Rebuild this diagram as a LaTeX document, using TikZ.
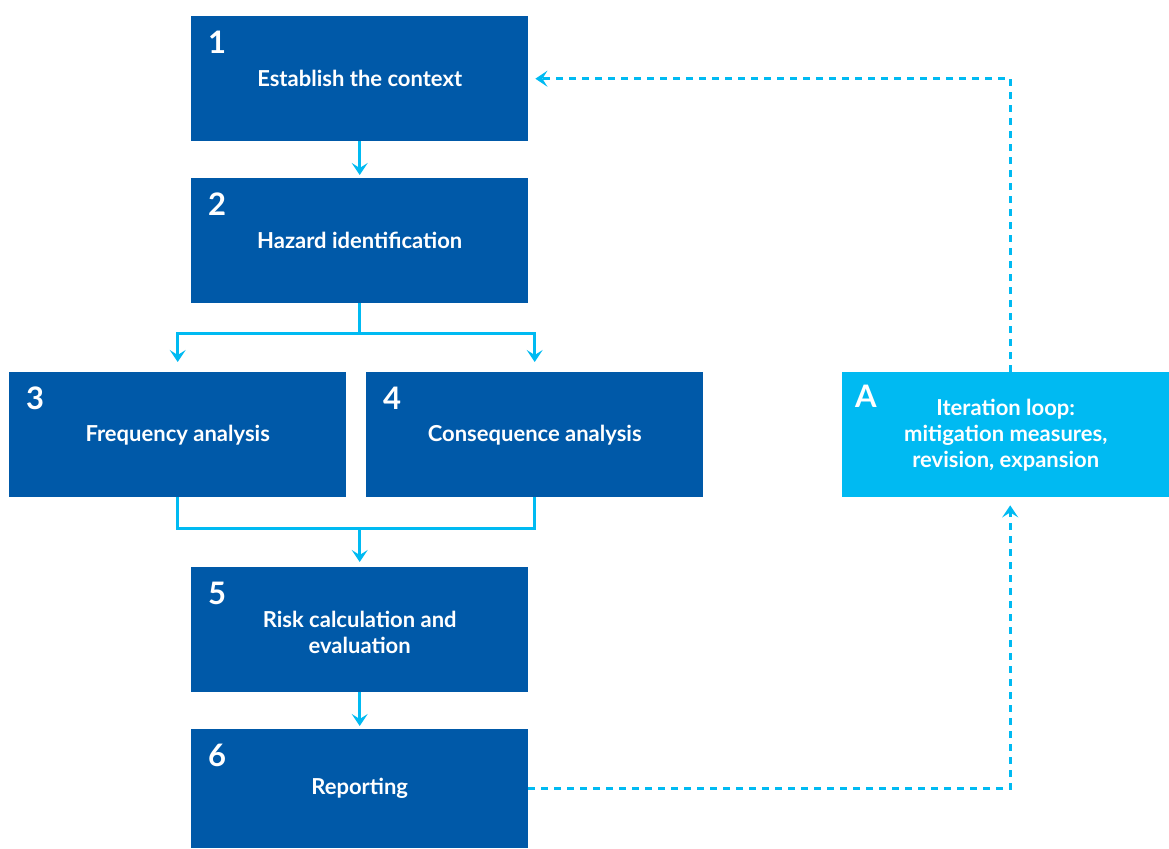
\documentclass[tikz,border=0pt]{standalone}
\usepackage{fontspec}
\setmainfont{Lato}
\usetikzlibrary{arrows.meta,calc}
\definecolor{dblue}{HTML}{0059A8}
\definecolor{lblue}{HTML}{00BAF2}
\begin{document}
\begin{tikzpicture}[x=1pt,y=-1pt,
  boxfont/.style={font=\fontsize{22}{26}\selectfont\bfseries},
  box/.style={fill=dblue,draw=none,text=white,minimum width=337pt,minimum height=125pt,anchor=north west,inner sep=0pt,align=center,boxfont},
  lbox/.style={box,fill=lblue,minimum width=327pt},
  boxtext/.style={text=white,inner sep=0pt,align=center,boxfont},
  num/.style={text=white,anchor=north west,inner sep=0pt,font=\fontsize{31}{32}\selectfont\bfseries},
  conn/.style={draw=lblue,line width=3pt},
  arr/.style={conn,-{Stealth[length=12pt,width=16pt,inset=5pt]}},
  dotarr/.style={conn,dash pattern=on 7pt off 6pt,-{Stealth[length=12pt,width=16pt,inset=5pt]}}
]
\useasboundingbox (0,0) rectangle (1169,848);
\node[box] (b1) at (191,16) {Establish the context};
\node[box] (b2) at (191,178) {Hazard identification};
\node[box] (b3) at (9,372) {Frequency analysis};
\node[box] (b4) at (366,372) {Consequence analysis};
\node[box] (b5) at (191,567) {};
\node[boxtext] (t5) at ([yshift=-3pt]b5.center) {Risk calculation and\\evaluation};
\node[box,minimum height=119pt] (b6) at (191,729) {Reporting};
\node[lbox] (bA) at (842,372) {Iteration loop:\\mitigation measures,\\revision, expansion};
\node[num] (n1) at ([xshift=17pt,yshift=-15pt]b1.north west) {1};
\node[num] (n2) at ([xshift=17pt,yshift=-15pt]b2.north west) {2};
\node[num] (n3) at ([xshift=17pt,yshift=-15pt]b3.north west) {3};
\node[num] (n4) at ([xshift=17pt,yshift=-15pt]b4.north west) {4};
\node[num] (n5) at ([xshift=17pt,yshift=-15pt]b5.north west) {5};
\node[num] (n6) at ([xshift=17pt,yshift=-15pt]b6.north west) {6};
\node[num] (nA) at ([xshift=13pt,yshift=-13pt]bA.north west) {A};
\draw[arr,shorten >=3pt] (b1.south) -- (b2.north);
\coordinate (s1) at ($(b2.south)+(0,30)$);
\draw[conn] (b2.south) -- (s1);
\draw[arr,shorten >=10pt] (s1) -| (b3.north);
\draw[arr,shorten >=10pt] (s1) -| (b4.north);
\coordinate (m1) at ($(b5.north)+(0,-39)$);
\draw[conn] (b3.south) |- (m1) -| (b4.south);
\draw[arr,shorten >=5pt] (m1) -- (b5.north);
\draw[arr,shorten >=3pt] (b5.south) -- (b6.north);
\draw[dotarr,shorten >=8pt] (b6.east) -| ([xshift=4.5pt]bA.south);
\draw[dotarr,shorten >=7pt] ([xshift=4.5pt]bA.north) |- (b1.east);
\end{tikzpicture}
\end{document}
